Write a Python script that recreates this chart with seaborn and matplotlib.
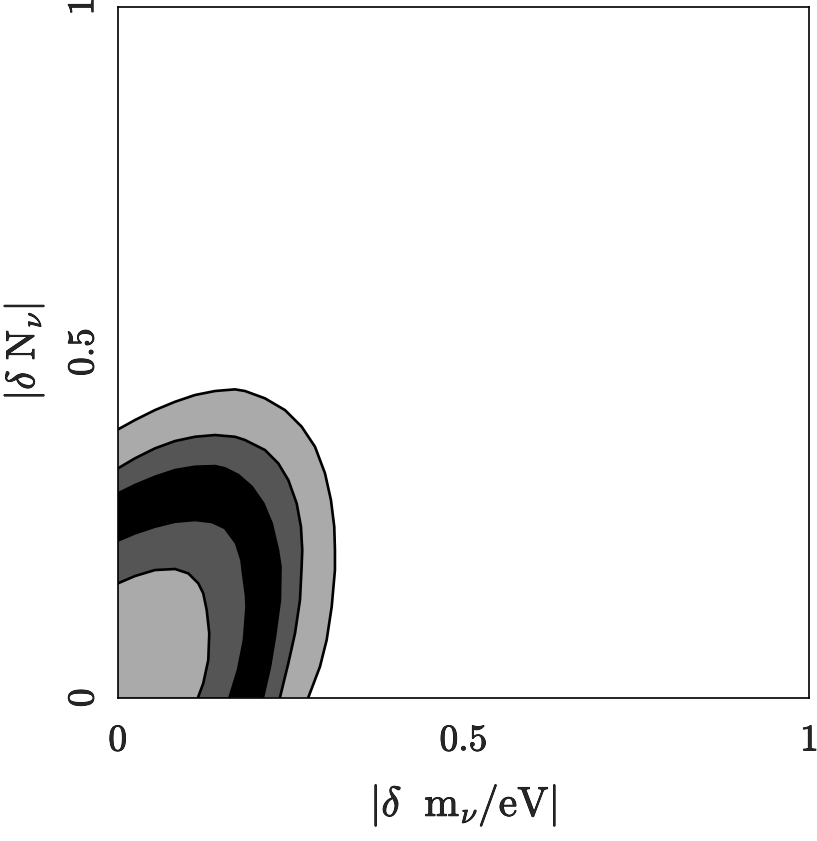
import numpy as np
import pandas as pd
import matplotlib
matplotlib.use("Agg")
from matplotlib import pyplot as plt
from matplotlib import patheffects as pe
import seaborn as sns


# Contour boundaries, from the y axis round to the x axis
# x = |dm_nu/eV|, y = |dN_nu|
c1_x = [0.0, 0.0246, 0.0535, 0.0825, 0.1114, 0.1404, 0.1693, 0.1838, 0.2127, 0.2417,
        0.2658, 0.2851, 0.2996, 0.3082, 0.313, 0.314, 0.314, 0.3093, 0.302, 0.2923, 0.2754]
c1_y = [0.388, 0.4016, 0.416, 0.428, 0.4378, 0.4436, 0.446, 0.4436, 0.433, 0.416,
        0.392, 0.363, 0.3245, 0.2858, 0.2472, 0.2135, 0.1845, 0.1314, 0.0832, 0.0446, 0.0]

c2_x = [0.0, 0.0246, 0.0535, 0.0825, 0.1114, 0.1404, 0.1693, 0.1838, 0.2127, 0.232,
        0.2465, 0.2586, 0.2648, 0.2667, 0.2658, 0.2634, 0.2562, 0.2465, 0.2344]
c2_y = [0.3317, 0.3462, 0.3606, 0.3712, 0.3774, 0.3799, 0.3774, 0.3727, 0.3582, 0.3389,
        0.3148, 0.281, 0.2472, 0.2135, 0.1893, 0.1411, 0.0929, 0.0495, 0.0]

c3_x = [0.0, 0.0246, 0.0535, 0.0825, 0.1114, 0.1404, 0.1548, 0.1741, 0.1935, 0.2103,
        0.2224, 0.2315, 0.2352, 0.2344, 0.2272, 0.22, 0.2098]
c3_y = [0.2955, 0.3075, 0.3195, 0.3292, 0.334, 0.335, 0.3317, 0.322, 0.3051, 0.281,
        0.2521, 0.2135, 0.1893, 0.1411, 0.088, 0.0446, 0.0]

c4_x = [0.0, 0.0246, 0.0535, 0.0825, 0.1114, 0.136, 0.1548, 0.1708, 0.1787, 0.1809,
        0.1852, 0.186, 0.1823, 0.1737, 0.1614]
c4_y = [0.2272, 0.2376, 0.2472, 0.2544, 0.2569, 0.254, 0.2453, 0.2236, 0.199, 0.1802,
        0.1483, 0.131, 0.0832, 0.0398, 0.0]

c5_x = [0.0, 0.0246, 0.0535, 0.0825, 0.1017, 0.1162, 0.1234, 0.1284, 0.1321, 0.1307,
        0.1234, 0.1158]
c5_y = [0.1653, 0.1758, 0.1845, 0.186, 0.1797, 0.1653, 0.1508, 0.1266, 0.0929, 0.0543,
        0.0205, 0.0]

band_colors = ['#aaaaaa', '#555555', '#000000', '#555555', '#aaaaaa']

tick_vals = [0, 0.5, 1]
tick_labels = [r'$0$', r'$0.5$', r'$1$']


def main():
    sns.set_theme(style='white')
    plt.rcParams['font.family'] = ['DejaVu Serif']
    plt.rcParams['mathtext.fontset'] = 'cm'

    fig = plt.figure(figsize=(8.17, 8.41), dpi=100)
    ax = fig.add_axes([0.1444, 0.1706, 0.8458, 0.8216])

    curves = [(c1_x, c1_y), (c2_x, c2_y), (c3_x, c3_y), (c4_x, c4_y), (c5_x, c5_y)]

    # filled bands, outermost first, each closed through the origin
    for (cx, cy), col in zip(curves, band_colors):
        ax.fill(list(cx) + [0.0], list(cy) + [0.0], color=col, lw=0, zorder=1)

    # contour lines
    for cx, cy in curves:
        df = pd.DataFrame({'x': cx, 'y': cy})
        sns.lineplot(data=df, x='x', y='y', sort=False, estimator=None,
                     color='black', lw=1.9, ax=ax, zorder=2,
                     solid_joinstyle='round', solid_capstyle='round')

    ax.set_xlim(0, 1)
    ax.set_ylim(0, 1)
    ax.set_xticks(tick_vals)
    ax.set_xticklabels(tick_labels)
    ax.set_yticks(tick_vals)
    ax.set_yticklabels(tick_labels, rotation=90, va='center')
    ax.tick_params(axis='both', length=0, labelsize=27)
    ax.tick_params(axis='x', pad=18)
    ax.tick_params(axis='y', pad=12)

    ax.set_xlabel(r'$|\delta\ \ \mathrm{m}_{\nu}/\mathrm{eV}|$', fontsize=30)
    ax.set_ylabel(r'$|\delta\ \mathrm{N}_{\nu}|$', fontsize=29)
    ax.xaxis.set_label_coords(0.5, -0.122)
    ax.yaxis.set_label_coords(-0.104, 0.5)

    # heavier strokes, like the original raster fonts
    heavy = [pe.withStroke(linewidth=0.6, foreground='black')]
    for t in ax.get_xticklabels() + ax.get_yticklabels() + [ax.xaxis.label, ax.yaxis.label]:
        t.set_path_effects(heavy)

    for s in ax.spines.values():
        s.set_visible(True)
        s.set_color('black')
        s.set_linewidth(1.2)

    fig.savefig('out.png', dpi=100)


if __name__ == "__main__":
    main()
